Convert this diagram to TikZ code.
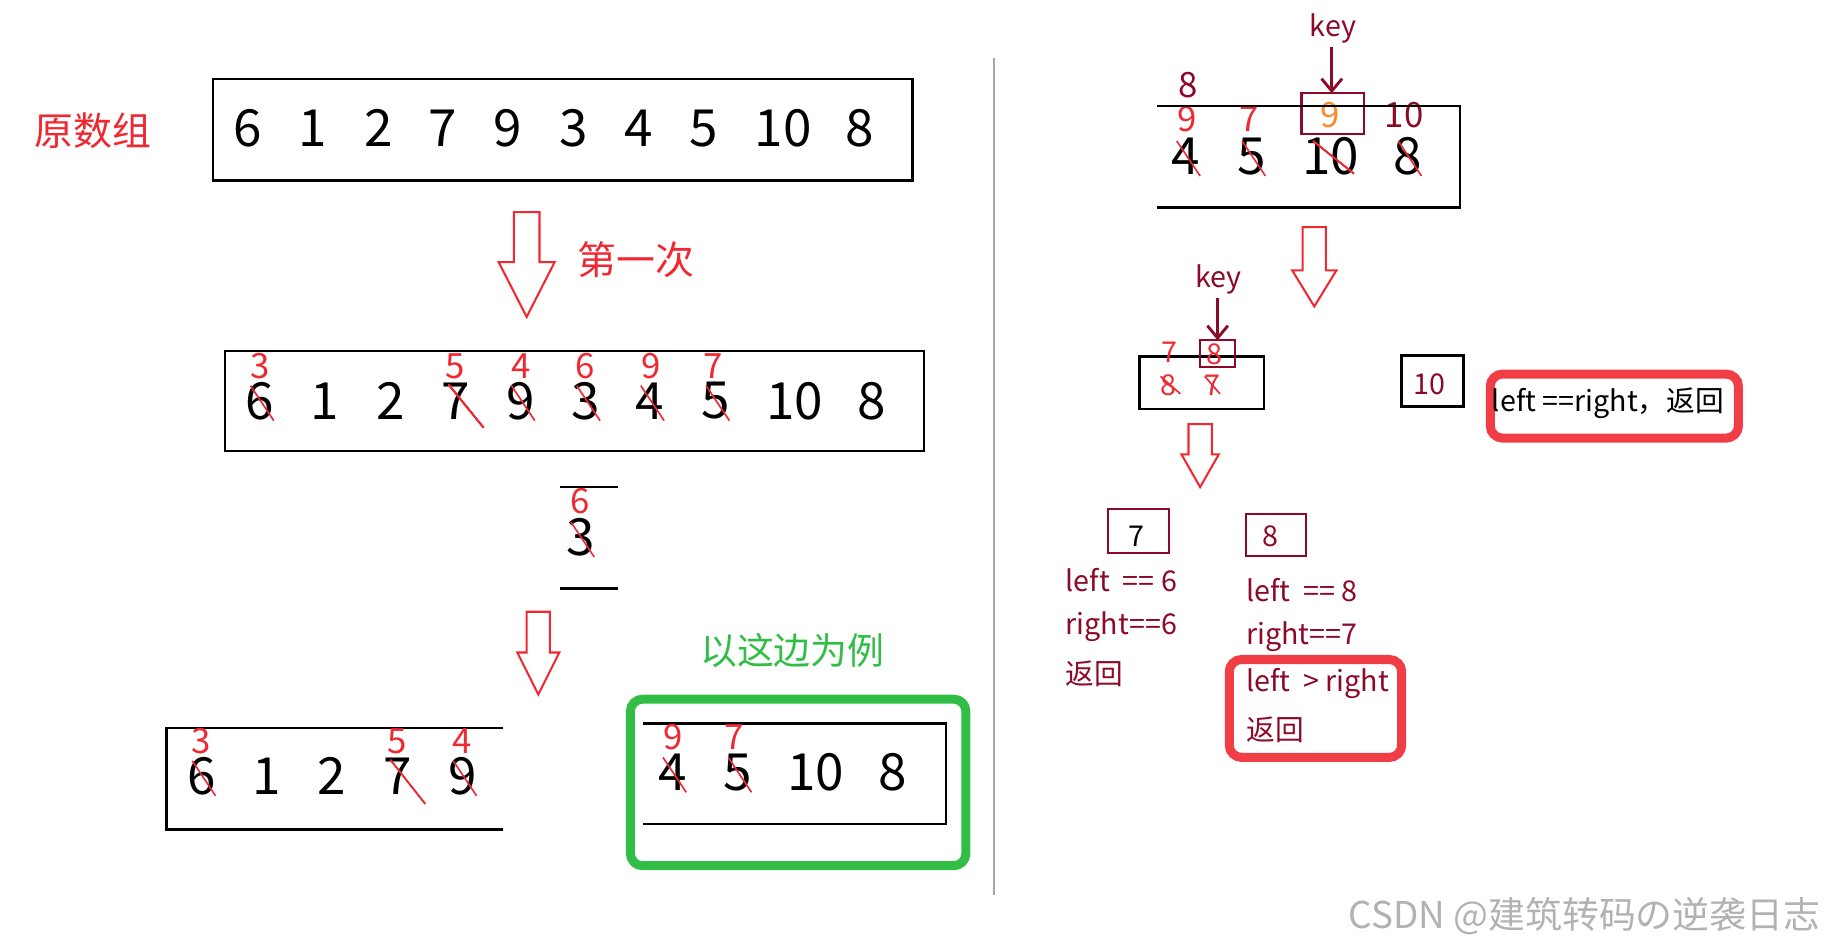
\documentclass[tikz,border=0pt]{standalone}
\usepackage{fontspec}
\setmainfont{Noto Sans CJK SC}
\definecolor{dred}{RGB}{140,10,40}
\definecolor{myred}{RGB}{240,40,50}
\definecolor{mygreen}{RGB}{50,190,70}
\definecolor{myorange}{RGB}{250,140,40}
\tikzset{
 big/.style={font=\fontsize{12.5}{12.5}\selectfont,inner sep=0},
 sup/.style={font=\fontsize{8.5}{8.5}\selectfont,inner sep=0,text=myred},
 small/.style={font=\fontsize{7}{7}\selectfont,inner sep=0},
 lbl/.style={font=\fontsize{7}{8}\selectfont,inner sep=0,anchor=west,text=dred},
 strike/.style={myred,line width=0.4pt},
 hollow/.style={myred,line width=0.5pt,fill=white},
 thin/.style={black,line width=0.6pt},
 keyarr/.style={dred,line width=0.7pt,-{Straight Barb[length=3pt,width=5pt]}},
}
\usetikzlibrary{arrows.meta}
\newcommand{\harrow}[6]{\draw[hollow] (#1-#4,#2) -- (#1+#4,#2) -- (#1+#4,#6) -- (#1+#5,#6) -- (#1,#3) -- (#1-#5,#6) -- (#1-#4,#6) -- cycle;}
\newcommand{\stk}[2]{\draw[strike] (#1-8,#2-12) -- (#1+12,#2+18);}
\begin{document}
\begin{tikzpicture}[x=0.01cm,y=-0.01cm]
\useasboundingbox (0,0) rectangle (1568,814);
% left top
\node[text=myred,font=\fontsize{9.5}{10}\selectfont] (yuan) at (80,112) {原数组};
\draw[thin] (183,68) rectangle (783,155);
\foreach \v/\x in {6/213,1/268,2/325,7/380,9/436,3/492,4/548,5/604,10/672,8/738}
  \node[big] at (\x,110) {\v};
\harrow{452}{182}{272}{11}{24}{225}
\node[text=myred,font=\fontsize{9.5}{10}\selectfont] (di) at (546,223) {第一次};
% second
\draw[thin] (193,301) rectangle (793,387);
\foreach \v/\x in {6/223,1/279,2/335,7/391,9/447,3/503,4/558,5/614,10/682,8/748}
  \node[big] at (\x,344) {\v};
\foreach \v/\x in {3/223,5/391,4/447,6/502,9/559,7/612}
  \node[sup] at (\x,314) {\v};
\foreach \x in {223,447,503,558,614} \stk{\x}{343}
\draw[strike] (385,330) -- (415,367);
% middle
\draw[thin] (481,418) -- (530,418);
\draw[thin] (481,505) -- (530,505);
\node[sup] at (498,430) {6};
\node[big] at (498,461) {3};
\stk{498}{460}
\harrow{462}{525}{596}{10}{18}{560}
% bottom left
\draw[thin] (432,625) -- (143,625) -- (143,712) -- (432,712);
\foreach \v/\x in {6/173,1/229,2/285,7/341,9/397}
  \node[big] at (\x,666) {\v};
\foreach \v/\x in {3/173,5/341,4/397}
  \node[sup] at (\x,636) {\v};
\foreach \x in {173,397} \stk{\x}{665}
\draw[strike] (335,652) -- (365,690);
% green
\node[text=mygreen,font=\fontsize{9}{10}\selectfont] (ex) at (680,558) {以这边为例};
\draw[mygreen,line width=2.2pt,rounded corners=3] (541,600) rectangle (829,743);
\draw[thin] (552,621) -- (812,621) -- (812,707) -- (552,707);
\foreach \v/\x in {4/577,5/633,10/700,8/766}
  \node[big] at (\x,663) {\v};
\node[sup] at (578,633) {9};
\node[sup] at (630,633) {7};
\foreach \x in {577,633} \stk{\x}{662}
% divider
\draw[gray!70,line width=0.5pt] (853,50) -- (853,768);
% right top
\node[small,text=dred] (key1) at (1144,24) {key};
\coordinate (k1t) at (1143,40);
\coordinate (k1b) at (1143,80);
\draw[keyarr] (k1t) -- (k1b);
\draw[dred,line width=0.5pt] (1117,80) rectangle (1171,115);
\node[sup,text=myorange] at (1142,99) {9};
\node[sup,text=dred] at (1020,73) {8};
\node[sup] at (1019,102) {9};
\node[sup] at (1072,102) {7};
\node[sup,text=dred] at (1205,99) {10};
\draw[thin] (993,91) -- (1253,91) -- (1253,178) -- (993,178);
\foreach \v/\x in {4/1018,5/1074,10/1142,8/1208}
  \node[big] at (\x,134) {\v};
\foreach \x in {1018,1074,1208} \stk{\x}{133}
\draw[strike] (1127,121) -- (1162,149);
\harrow{1128}{195}{263}{10}{19}{232}
% right middle
\node[small,text=dred] (key2) at (1046,240) {key};
\coordinate (k2t) at (1045,256);
\coordinate (k2b) at (1045,292);
\draw[keyarr] (k2t) -- (k2b);
\draw[thin] (978,306) rectangle (1085,351);
\draw[dred,line width=0.5pt] (1030,292) rectangle (1060,315);
\node[small,text=myred] at (1042,304) {8};
\node[small,text=myred] at (1004,302) {7};
\node[small,text=myred] at (1003,331) {8};
\node[small,text=myred] at (1041,331) {7};
\draw[strike] (996,323) -- (1013,338);
\draw[strike] (1034,323) -- (1047,338);
\draw[thin] (1203,305) rectangle (1256,349);
\node[small,text=dred] (ten) at (1227,330) {10};
\draw[myred!90,line width=2.2pt,rounded corners=3] (1279,321) rectangle (1492,376);
\node[font=\fontsize{7}{8}\selectfont,inner sep=0] (lr) at (1380,346) {left ==right，返回};
\harrow{1030}{364}{418}{10}{16}{390}
% bottom right
\draw[dred,line width=0.5pt] (951,437) rectangle (1003,475);
\node[small] at (975,460) {7};
\node[lbl] at (914,498) {left\ \ == 6};
\node[lbl] at (914,538) {right==6};
\node[lbl] at (914,578) {返回};
\draw[dred,line width=0.5pt] (1069,441) rectangle (1121,477);
\node[small,text=dred] at (1090,460) {8};
\node[lbl] at (1069,506) {left\ \ == 8};
\node[lbl] at (1069,546) {right==7};
\draw[myred!90,line width=2.2pt,rounded corners=3] (1055,566) rectangle (1203,650);
\node[lbl] at (1069,587) {left\ \ > right};
\node[lbl] at (1069,626) {返回};
% watermark
\node[anchor=east,text=gray!60,font=\fontsize{9}{10}\selectfont,inner sep=0] at (1563,786) {CSDN @建筑转码の逆袭日志};
\end{tikzpicture}
\end{document}
